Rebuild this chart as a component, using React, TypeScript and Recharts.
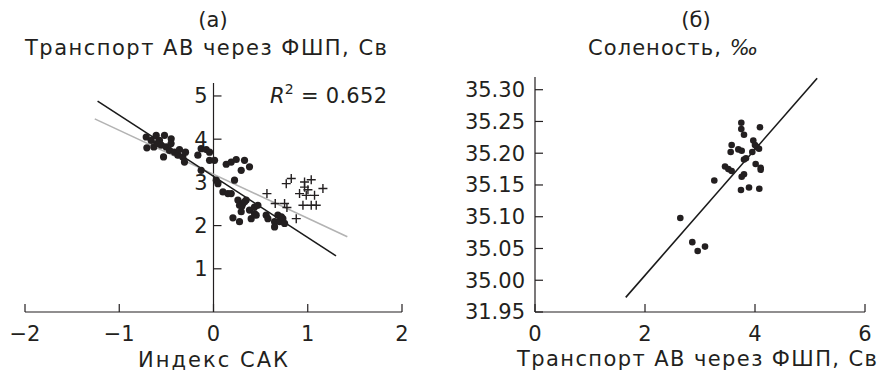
import React from 'react';
import { ScatterChart, Scatter, XAxis, YAxis, ReferenceLine, ReferenceDot } from 'recharts';

const FONT = 'DejaVu Sans, sans-serif';
const INK = '#231f20';
const FS = 21;

// Panel (а): NAO index vs transport
const naoX = [
  -0.714, -0.707, -0.661, -0.608, -0.633, -0.573, -0.52, -0.449, -0.555, -0.502,
  -0.53, -0.467, -0.414, -0.378, -0.361, -0.325, -0.308, -0.297, -0.166, -0.131,
  -0.077, -0.042, -0.042, 0.011, -0.131, 0.029, 0.047, 0.1, 0.153, 0.188,
  0.135, 0.188, 0.241, 0.294, 0.329, 0.382, 0.223, 0.259, 0.276, 0.312,
  0.347, 0.294, 0.206, 0.276, 0.382, 0.4, 0.453, 0.435, 0.471, 0.559,
  0.577, 0.648, 0.648, 0.683, 0.701, 0.736, 0.754, 0.435, -0.6, -0.45,
  0.3, 0.33, 0.72,
];
const transportY = [
  4.05, 3.8, 3.97, 4.09, 3.82, 3.97, 4.09, 4.01, 3.86, 3.82,
  3.59, 3.74, 3.7, 3.63, 3.76, 3.59, 3.47, 3.7, 3.63, 3.78,
  3.76, 3.7, 3.51, 3.51, 3.28, 3.05, 2.97, 2.78, 2.74, 2.74,
  3.42, 3.47, 3.53, 3.28, 3.51, 3.36, 3.05, 2.59, 2.47, 2.51,
  2.59, 2.32, 2.18, 2.09, 2.36, 2.16, 2.24, 2.43, 2.47, 2.24,
  2.16, 2.09, 1.97, 2.24, 2.09, 2.16, 2.05, 2.28, 3.9, 3.9,
  2.45, 2.55, 2.2,
];
const crossX = [
  0.567, 0.655, 0.754, 0.779, 0.772, 0.825, 0.878, 0.913, 0.966,
  0.966, 1.037, 1.002, 0.984, 1.037, 1.072, 1.09, 1.161, 0.949,
];
const crossY = [
  2.74, 2.51, 2.51, 2.42, 2.97, 3.09, 2.16, 2.74, 2.89,
  3.01, 3.06, 2.83, 2.7, 2.47, 2.7, 2.47, 2.86, 2.47,
];
const fitBlackX = [-1.23, 1.3];
const fitBlackY = [4.88, 1.3];
const fitGrayX = [-1.26, 1.42];
const fitGrayY = [4.47, 1.74];
const leftXTicks = [-2, -1, 0, 1, 2];
const leftYTicks = [1, 2, 3, 4, 5];

// Panel (б): transport vs salinity
const transportX = [
  3.751, 3.751, 3.8, 4.09, 3.969, 3.576, 3.558, 3.697, 3.758, 3.951,
  4.031, 4.073, 4.0, 3.8, 3.836, 4.012, 4.104, 4.104, 3.455, 3.515,
  3.576, 3.8, 3.758, 3.26, 3.745, 3.891, 4.078, 2.642, 2.86, 2.958,
  3.091,
];
const salinityY = [
  35.248, 35.238, 35.229, 35.241, 35.22, 35.213, 35.202, 35.206, 35.204, 35.202,
  35.21, 35.207, 35.213, 35.19, 35.192, 35.183, 35.177, 35.174, 35.179, 35.175,
  35.172, 35.167, 35.163, 35.157, 35.142, 35.146, 35.144, 35.098, 35.06, 35.046,
  35.053,
];
const fitRightX = [1.65, 5.13];
const fitRightY = [34.973, 35.318];
const rightXTicks = [0, 2, 4, 6];
const rightYTicks = [34.95, 35.0, 35.05, 35.1, 35.15, 35.2, 35.25, 35.3];
const rightYTickLabels = ['31.95', '35.00', '35.05', '35.10', '35.15', '35.20', '35.25', '35.30'];

const zip = (xs: number[], ys: number[]) => xs.map((x, i) => ({ x, y: ys[i] }));

const dotShape = (r: number) => (p: any) => <circle cx={p.cx} cy={p.cy} r={r} fill={INK} />;
const crossShape = (p: any) => (
  <path d={`M${p.cx - 4.5},${p.cy}h9M${p.cx},${p.cy - 4.5}v9`} stroke={INK} strokeWidth={1.4} fill="none" />
);
const noShape = () => <g />;

const tickStyle = { fill: INK, fontSize: FS, fontFamily: FONT };

export default function App() {
  return (
    <div style={{ position: 'absolute', left: 0, top: 0, width: 881, height: 376, background: '#fff', fontFamily: FONT }}>
      <div style={{ position: 'absolute', left: 0, top: 0 }}>
        <ScatterChart width={440} height={376} margin={{ top: 83, right: 38, bottom: 34, left: 25 }}>
          <XAxis
            type="number"
            dataKey="x"
            domain={[-2, 2]}
            ticks={leftXTicks}
            tickSize={-8}
            tickMargin={22}
            height={30}
            stroke={INK}
            strokeWidth={1.2}
            tick={tickStyle}
            tickFormatter={(v: number) => String(v).replace('-', '\u2212')}
            allowDataOverflow
          />
          <YAxis type="number" dataKey="y" domain={[0, 5.3]} hide allowDataOverflow />
          <ReferenceLine x={0} stroke={INK} strokeWidth={1.2} />
          {leftYTicks.map((t) => (
            <ReferenceDot
              key={t}
              x={0}
              y={t}
              shape={(p: any) => (
                <g>
                  <line x1={p.cx} x2={p.cx + 8} y1={p.cy} y2={p.cy} stroke={INK} strokeWidth={1.2} />
                  <text x={p.cx - 6} y={p.cy} dy="0.35em" textAnchor="end" fill={INK} fontSize={FS} fontFamily={FONT}>
                    {t}
                  </text>
                </g>
              )}
            />
          ))}
          <Scatter data={zip(fitGrayX, fitGrayY)} line={{ stroke: '#b3b3b3', strokeWidth: 1.6 }} shape={noShape} isAnimationActive={false} />
          <Scatter data={zip(fitBlackX, fitBlackY)} line={{ stroke: '#1a1a1a', strokeWidth: 1.6 }} shape={noShape} isAnimationActive={false} />
          <Scatter data={zip(naoX, transportY)} shape={dotShape(3.6)} isAnimationActive={false} />
          <Scatter data={zip(crossX, crossY)} shape={crossShape} isAnimationActive={false} />
        </ScatterChart>
      </div>
      <div style={{ position: 'absolute', left: 440, top: 0 }}>
        <ScatterChart width={441} height={376} margin={{ top: 77, right: 16, bottom: 34, left: 0 }}>
          <XAxis
            type="number"
            dataKey="x"
            domain={[0, 6]}
            ticks={rightXTicks}
            tickSize={-8}
            tickMargin={22}
            height={30}
            stroke={INK}
            strokeWidth={1.2}
            tick={tickStyle}
            allowDataOverflow
          />
          <YAxis
            type="number"
            dataKey="y"
            domain={[34.95, 35.32]}
            ticks={rightYTicks}
            tickSize={-8}
            tickMargin={18}
            width={95}
            stroke={INK}
            strokeWidth={1.2}
            tick={tickStyle}
            interval={0}
            tickFormatter={(v: number) => {
              const i = rightYTicks.findIndex((t) => Math.abs(t - v) < 1e-6);
              return i >= 0 ? rightYTickLabels[i] : v.toFixed(2);
            }}
            allowDataOverflow
          />
          <Scatter data={zip(fitRightX, fitRightY)} line={{ stroke: '#1a1a1a', strokeWidth: 1.6 }} shape={noShape} isAnimationActive={false} />
          <Scatter data={zip(transportX, salinityY)} shape={dotShape(3.3)} isAnimationActive={false} />
        </ScatterChart>
      </div>
      <svg width={881} height={376} style={{ position: 'absolute', left: 0, top: 0, pointerEvents: 'none' }}>
        <g fill={INK} fontFamily={FONT} fontSize={FS}>
          <text x={213} y={27} textAnchor="middle">(а)</text>
          <text x={25} y={55} textLength={362} lengthAdjust="spacing">Транспорт АВ через ФШП, Св</text>
          <text x={270} y={103} textLength={117} lengthAdjust="spacing">
            <tspan fontStyle="italic">R</tspan>
            <tspan fontSize={14} dy={-9}>2</tspan>
            <tspan dy={9}> = 0.652</tspan>
          </text>
          <text x={138} y={367} textLength={150} lengthAdjust="spacing">Индекс САК</text>
          <text x={696} y={27} textAnchor="middle">(б)</text>
          <text x={588} y={55} textLength={170} lengthAdjust="spacing">
            Соленость, <tspan fontStyle="italic">‰</tspan>
          </text>
          <text x={517} y={366} textLength={360} lengthAdjust="spacing">Транспорт АВ через ФШП, Св</text>
        </g>
      </svg>
    </div>
  );
}
